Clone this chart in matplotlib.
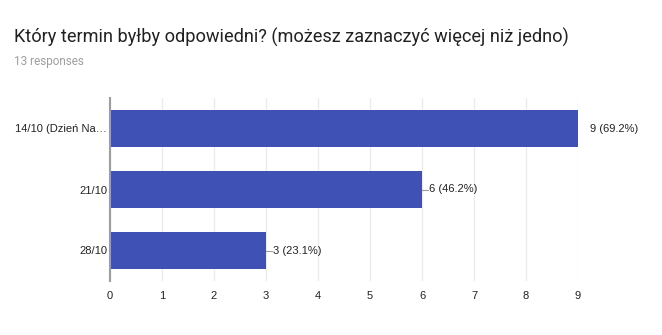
import matplotlib.pyplot as plt

title = 'Który termin byłby odpowiedni? (możesz zaznaczyć więcej niż jedno)'
subtitle = '13 responses'
options = ['14/10 (Dzień Na…', '21/10', '28/10']
counts = [9, 6, 3]
total = 13
xticks = list(range(0, 10))

bar_color = '#3f51b5'

fig = plt.figure(figsize=(6.62, 3.35), dpi=100)
fig.patch.set_facecolor('white')

fig.text(14 / 662, 1 - 37 / 335, title, fontsize=13.1, family=['Roboto', 'DejaVu Sans'],
         color='#212121', va='center', ha='left')
fig.text(14 / 662, 1 - 62 / 335, subtitle, fontsize=8.5, family=['Roboto', 'DejaVu Sans'],
         color='#9e9e9e', va='center', ha='left')

ax = fig.add_axes([110 / 662, 1 - 281 / 335, 468 / 662, 183 / 335])
ypos = list(range(len(options)))
ax.barh(ypos, counts, height=0.62, color=bar_color, zorder=3)

ax.set_xlim(0, 9)
ax.set_ylim(2.5, -0.5)
ax.set_xticks(xticks)
ax.set_xticklabels([str(t) for t in xticks])
ax.set_yticks(ypos)
ax.set_yticklabels(options)
ax.grid(axis='x', color='#ebebeb', linewidth=1, zorder=0)
ax.tick_params(length=0, labelsize=8, colors='#222222', pad=7)
ax.tick_params(axis='y', pad=2)
for lab in ax.get_xticklabels() + ax.get_yticklabels():
    lab.set_family(['Liberation Sans', 'DejaVu Sans'])

for side in ['top', 'right', 'bottom']:
    ax.spines[side].set_visible(False)
ax.spines['left'].set_color('#9e9e9e')
ax.spines['left'].set_linewidth(1.5)
ax.spines['left'].set_zorder(4)

# value labels with a short leader line from the bar end
for y, c in zip(ypos, counts):
    label = f'{c} ({c / total * 100:.1f}%)'
    if c < 9:
        ax.plot([c, c + 0.12], [y, y], color='#9e9e9e', linewidth=0.8, zorder=4, clip_on=False)
        ax.text(c + 0.13, y, label, fontsize=8, family=['Liberation Sans', 'DejaVu Sans'],
                color='#222222', va='center', ha='left')
    else:
        ax.text(c + 0.23, y, label, fontsize=8, family=['Liberation Sans', 'DejaVu Sans'],
                color='#222222', va='center', ha='left', clip_on=False)

fig.savefig('out.png', dpi=100)
